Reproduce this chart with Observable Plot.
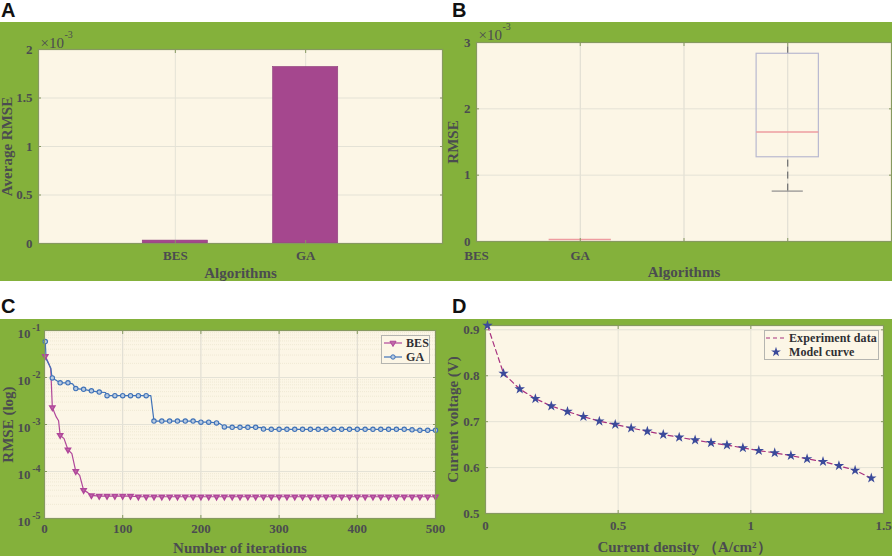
<!DOCTYPE html>
<html>
<head>
<meta charset="utf-8">
<script src="https://cdn.jsdelivr.net/npm/d3@7"></script>
<script src="https://cdn.jsdelivr.net/npm/@observablehq/plot@0.6"></script>
<style>
  html, body { margin: 0; padding: 0; background: #fff; }
  #page { position: relative; width: 892px; height: 556px; overflow: hidden; }
  #page svg.panel { position: absolute; }
  .letter { position: absolute; font: bold 20px "Liberation Sans", sans-serif; color: #111; line-height: 20px; }
  .legend { position: absolute; background: #fcf6e6; border: 1px solid #b5b5b0; box-sizing: border-box;
    font: bold 12px "Liberation Serif", serif; color: #2f2f33; letter-spacing: 0.1px; white-space: nowrap; }
  .legend div { display: flex; align-items: center; height: 14px; }
  .legend svg { flex: none; margin-right: 3px; }
</style>
</head>
<body>
<div id="page"></div>
<script>
const GREEN = '#84b13b', CREAM = '#fcf6e6', INK = '#4b4c50', GRID = '#e4e2d6', EDGE = '#86995f'
const PURPLE = '#a5478e', PINK = '#b0479a', BLUE = '#3f72b8', NAVY = '#3b4a9a'

// A
const algos = ['BES', 'GA']
const avgRmse = [0.03, 1.82] // x 10^-3
const ticksA = [0, 0.5, 1, 1.5, 2]

// B
const boxX = [1, 3]
const boxLo = [0.03, 0.76]
const boxQ1 = [0.03, 1.27]
const boxMed = [0.03, 1.65]
const boxQ3 = [0.03, 2.83]
const boxHi = [0.03, 3.0]
const ticksBx = [0, 1, 2, 3, 4]
const labelsBx = ['BES', 'GA', '', '', '']
const ticksBy = [0, 1, 2, 3]

// C
const besIter = [1, 5, 8, 10, 15, 18, 20, 25, 30, 35, 40, 45, 50, 55, 60, 70, 80, 90, 100, 110, 120, 130, 140, 150, 160, 170, 180, 190, 200, 210, 220, 230, 240, 250, 260, 270, 280, 290, 300, 310, 320, 330, 340, 350, 360, 370, 380, 390, 400, 410, 420, 430, 440, 450, 460, 470, 480, 490, 500]
const besRmse = [0.0285, 0.0205, 0.0154, 0.0023, 0.00145, 0.0012, 0.00059, 0.0005, 0.00029, 0.00024, 0.000101, 0.000083, 0.00004, 0.000036, 0.000031, 0.00003, 0.00003, 0.00003, 0.00003, 0.00003, 0.000029, 0.000029, 0.000029, 0.000029, 0.000029, 0.000029, 0.000029, 0.000029, 0.000029, 0.000029, 0.000029, 0.000029, 0.000029, 0.000029, 0.000029, 0.000029, 0.000029, 0.000029, 0.000029, 0.000029, 0.000029, 0.000029, 0.000029, 0.000029, 0.000029, 0.000029, 0.000029, 0.000029, 0.000029, 0.000029, 0.000029, 0.000029, 0.000029, 0.000029, 0.000029, 0.000029, 0.000029, 0.000029, 0.000029]
const gaIter = [1, 2, 5, 8, 9, 10, 20, 30, 36, 40, 50, 60, 70, 78, 80, 90, 100, 110, 120, 130, 136, 140, 150, 160, 170, 180, 190, 200, 210, 220, 224, 230, 240, 250, 260, 270, 278, 280, 290, 300, 310, 320, 330, 340, 350, 360, 370, 380, 390, 400, 410, 420, 430, 440, 450, 460, 470, 480, 490, 500]
const gaRmse = [0.058, 0.025, 0.02, 0.016, 0.012, 0.0098, 0.0077, 0.0077, 0.0073, 0.0058, 0.0056, 0.0052, 0.0049, 0.0048, 0.0041, 0.0041, 0.0041, 0.0041, 0.0041, 0.0041, 0.0041, 0.00118, 0.00118, 0.00118, 0.00118, 0.00118, 0.00118, 0.00112, 0.00112, 0.00108, 0.00105, 0.00089, 0.00087, 0.00087, 0.00087, 0.00087, 0.00086, 0.0008, 0.00079, 0.00079, 0.00079, 0.00079, 0.00079, 0.00079, 0.00079, 0.00079, 0.00079, 0.00079, 0.00079, 0.00079, 0.00079, 0.00079, 0.00079, 0.00079, 0.00079, 0.00079, 0.00077, 0.00075, 0.00075, 0.00075]
const ticksCx = [0, 100, 200, 300, 400, 500]
const decades = [1e-1, 1e-2, 1e-3, 1e-4, 1e-5]
const decadeExp = ['-1', '-2', '-3', '-4', '-5']

// D
const density = [0.0075, 0.068, 0.129, 0.188, 0.248, 0.309, 0.369, 0.429, 0.489, 0.549, 0.61, 0.67, 0.73, 0.79, 0.85, 0.91, 0.97, 1.03, 1.09, 1.151, 1.212, 1.272, 1.332, 1.393, 1.454]
const voltage = [0.9094, 0.805, 0.771, 0.75, 0.734, 0.722, 0.711, 0.701, 0.694, 0.686, 0.679, 0.672, 0.666, 0.66, 0.654, 0.649, 0.643, 0.637, 0.632, 0.626, 0.619, 0.613, 0.604, 0.594, 0.577]
const ticksDx = [0, 0.5, 1, 1.5]
const ticksDy = [0.5, 0.6, 0.7, 0.8, 0.9]

const page = d3.select('#page')

function addPanel(left, top, options) {
  const chart = Plot.plot({
    width: 446,
    style: {background: GREEN, color: INK, fontFamily: '"Liberation Serif", serif', fontSize: '13px', fontWeight: 'bold'},
    ...options
  })
  chart.setAttribute('class', 'panel')
  chart.style.left = left + 'px'
  chart.style.top = top + 'px'
  page.append(() => chart)
}

function addLetter(text, left, top) {
  page.append('div').attr('class', 'letter').style('left', left + 'px').style('top', top + 'px').text(text)
}

// fondo crema, va primero que todo
const back = Plot.frame({fill: CREAM})
const box = Plot.frame({stroke: EDGE, strokeWidth: 1.2})

// ejes con marcas hacia adentro, como en MATLAB
const xAxis = (ticks, extra = {}) => Plot.axisX(ticks, {
  anchor: 'bottom', label: null, tickSize: -3, tickPadding: 10, stroke: EDGE, fontSize: 13, ...extra
})
const yAxis = (ticks, extra = {}) => Plot.axisY(ticks, {
  anchor: 'left', label: null, tickSize: -3, tickPadding: 9, stroke: EDGE, fontSize: 13, ...extra
})
const topTicks = ticks => Plot.axisX(ticks, {anchor: 'top', tickSize: -3, fill: 'none', label: null, stroke: EDGE})
const rightTicks = ticks => Plot.axisY(ticks, {anchor: 'right', tickSize: -3, fill: 'none', label: null, stroke: EDGE})

// titulos de eje aparte para poder darles otro tamaño
const xTitle = (text, dy) => Plot.text([text], {frameAnchor: 'bottom', dy, fontSize: 15, fill: INK})
const yTitle = (text, dx) => Plot.text([text], {frameAnchor: 'left', textAnchor: 'middle', dx, rotate: -90, fontSize: 15, fill: INK})

const times10 = (dy) => [
  Plot.text(['×10'], {frameAnchor: 'top-left', dx: 2, dy, fontWeight: 'normal', fontSize: 15, fill: INK}),
  Plot.text(['-3'], {frameAnchor: 'top-left', dx: 26, dy: dy - 7, fontWeight: 'normal', fontSize: 10, fill: INK})
]

// Panel A
addPanel(0, 22, {
  height: 259, marginLeft: 38, marginRight: 4, marginTop: 27, marginBottom: 38,
  x: {type: 'band', domain: algos, paddingInner: 0.5, paddingOuter: 0.8, round: false},
  y: {domain: [0, 2]},
  marks: [
    back,
    Plot.gridX(algos, {stroke: GRID, strokeOpacity: 1}),
    Plot.gridY(ticksA, {stroke: GRID, strokeOpacity: 1}),
    Plot.barY(algos, {x: d => d, y: (d, i) => avgRmse[i], fill: PURPLE, stroke: '#8d3f7b', strokeWidth: 0.6}),
    xAxis(algos),
    yAxis(ticksA, {tickFormat: d => String(d)}),
    topTicks(algos),
    rightTicks(ticksA),
    box,
    xTitle('Algorithms', 34),
    yTitle('Average RMSE', -31),
    ...times10(-12)
  ]
})
addLetter('A', 1, 0)

// Panel B
addPanel(446, 22, {
  height: 259, marginLeft: 30, marginRight: 1, marginTop: 20, marginBottom: 40,
  x: {domain: [0, 4]},
  y: {domain: [0, 3]},
  marks: [
    back,
    Plot.gridX(ticksBx, {stroke: '#dcdad0', strokeOpacity: 1}),
    Plot.gridY(ticksBy, {stroke: GRID, strokeOpacity: 1}),
    // bigotes
    Plot.ruleX(boxX, {x: d => d, y1: (d, i) => boxLo[i], y2: (d, i) => boxQ1[i], stroke: '#55565a', strokeDasharray: '7 5'}),
    Plot.ruleX(boxX, {x: d => d, y1: (d, i) => boxQ3[i], y2: (d, i) => boxHi[i], stroke: '#55565a', strokeDasharray: '7 5'}),
    Plot.ruleY(boxX, {y: (d, i) => boxLo[i], x1: d => d - 0.15, x2: d => d + 0.15, stroke: '#77787a'}),
    // cajas
    Plot.rect(boxX, {x1: d => d - 0.3, x2: d => d + 0.3, y1: (d, i) => boxQ1[i], y2: (d, i) => boxQ3[i], stroke: '#b9b9d0', strokeWidth: 1.2, fill: 'none'}),
    Plot.ruleY(boxX, {y: (d, i) => boxMed[i], x1: d => d - 0.3, x2: d => d + 0.3, stroke: '#ee9ca0', strokeWidth: 1.4}),
    xAxis(ticksBx, {tickFormat: (d, i) => labelsBx[i], tickPadding: 12}),
    yAxis(ticksBy, {tickFormat: d => String(d)}),
    topTicks(ticksBx),
    rightTicks(ticksBy),
    box,
    xTitle('Algorithms', 35),
    yTitle('RMSE', -23),
    ...times10(-13)
  ]
})
addLetter('B', 452, 0)

// Panel C
const minorLog = d3.scaleLog().domain([1e-5, 1e-1]).ticks()
const besLine = besIter.map((x, i) => ({x, y: besRmse[i]}))
const gaLine = gaIter.map((x, i) => ({x, y: gaRmse[i]}))
const onMark = d => d.x === 1 || d.x % 10 === 0
addPanel(0, 319, {
  height: 237, marginLeft: 44, marginRight: 11, marginTop: 11, marginBottom: 38,
  x: {domain: [0, 500]},
  y: {type: 'log', domain: [1e-5, 1e-1]},
  marks: [
    back,
    Plot.gridY(minorLog, {stroke: '#efe9d4', strokeOpacity: 1, strokeDasharray: '1 1'}),
    Plot.gridX(ticksCx, {stroke: '#dcdad0', strokeOpacity: 1}),
    Plot.gridY(decades, {stroke: GRID, strokeOpacity: 1}),
    Plot.line(besLine, {x: 'x', y: 'y', stroke: PINK, strokeWidth: 1.2}),
    Plot.line(gaLine, {x: 'x', y: 'y', stroke: BLUE, strokeWidth: 1.2}),
    Plot.dot(besLine.filter(onMark), {x: 'x', y: 'y', symbol: 'triangle', rotate: 180, r: 1.9, fill: '#c069a8', stroke: PINK}),
    Plot.dot(gaLine.filter(onMark), {x: 'x', y: 'y', r: 2.2, fill: '#b9cbe0', stroke: BLUE, strokeWidth: 1.1}),
    xAxis(ticksCx, {tickPadding: 8, tickFormat: d => String(d)}),
    Plot.axisY(decades, {anchor: 'left', tickSize: -3, fill: 'none', label: null, stroke: EDGE}),
    Plot.text(decades, {y: d => d, text: () => '10', frameAnchor: 'left', textAnchor: 'end', dx: -14, dy: 3, fontSize: 13, fill: INK}),
    Plot.text(decades, {y: d => d, text: (d, i) => decadeExp[i], frameAnchor: 'left', textAnchor: 'end', dx: -4, dy: -3, fontSize: 10, fill: INK}),
    topTicks(ticksCx),
    rightTicks(decades),
    box,
    xTitle('Number of iterations', 34),
    yTitle('RMSE (log)', -36)
  ]
})
addLetter('C', 1, 296)

// Panel D
const ivCurve = density.map((x, i) => ({x, y: voltage[i]}))
addPanel(446, 319, {
  height: 237, marginLeft: 39, marginRight: 9, marginTop: 6, marginBottom: 43,
  x: {domain: [0, 1.5]},
  y: {domain: [0.5, 0.9094]},
  marks: [
    back,
    Plot.gridX(ticksDx, {stroke: GRID, strokeOpacity: 1}),
    Plot.gridY(ticksDy, {stroke: GRID, strokeOpacity: 1}),
    Plot.line(ivCurve, {x: 'x', y: 'y', stroke: '#a8327f', strokeWidth: 1.2, strokeDasharray: '5 3.5'}),
    xAxis(ticksDx, {tickFormat: d => String(d)}),
    yAxis(ticksDy, {tickFormat: d => String(d)}),
    topTicks(ticksDx),
    rightTicks(ticksDy),
    box,
    xTitle('Current density （A/cm²）', 38),
    yTitle('Current voltage (V)', -32),
    Plot.dot(ivCurve, {x: 'x', y: 'y', symbol: 'star', r: 3.3, fill: NAVY})
  ]
})
addLetter('D', 452, 296)

// Leyendas
function swatch(draw) {
  const s = d3.create('svg').attr('width', 20).attr('height', 12)
  draw(s)
  return s.node()
}
function addLegend(left, top, width, height, rows, pad) {
  const l = page.append('div').attr('class', 'legend')
    .style('left', left + 'px').style('top', top + 'px').style('width', width + 'px').style('height', height + 'px')
    .style('padding', pad)
  rows.forEach(([draw, label]) => {
    const row = l.append('div')
    row.append(() => swatch(draw))
    row.append('span').text(label)
  })
}
const triangleDown = s => {
  s.append('line').attr('x1', 1).attr('x2', 19).attr('y1', 6).attr('y2', 6).attr('stroke', PINK).attr('stroke-width', 1.2)
  s.append('path').attr('d', d3.symbol(d3.symbolTriangle, 16)).attr('transform', 'translate(10,6) rotate(180)').attr('fill', '#c069a8').attr('stroke', PINK)
}
const circleMark = s => {
  s.append('line').attr('x1', 1).attr('x2', 19).attr('y1', 6).attr('y2', 6).attr('stroke', BLUE).attr('stroke-width', 1.2)
  s.append('circle').attr('cx', 10).attr('cy', 6).attr('r', 2.2).attr('fill', '#b9cbe0').attr('stroke', BLUE)
}
const dashMark = s => {
  s.append('line').attr('x1', 0).attr('x2', 20).attr('y1', 6).attr('y2', 6).attr('stroke', '#a8327f').attr('stroke-width', 1.2).attr('stroke-dasharray', '4 3')
}
const starMark = s => {
  s.append('path').attr('d', d3.symbol(d3.symbolStar, 30)).attr('transform', 'translate(10,6)').attr('fill', NAVY)
}
addLegend(381, 335, 49, 29, [[triangleDown, 'BES'], [circleMark, 'GA']], '0 0 0 1px')
addLegend(764, 330, 115, 30, [[dashMark, 'Experiment data'], [starMark, 'Model curve']], '0 0 0 1px')
</script>
</body>
</html>
